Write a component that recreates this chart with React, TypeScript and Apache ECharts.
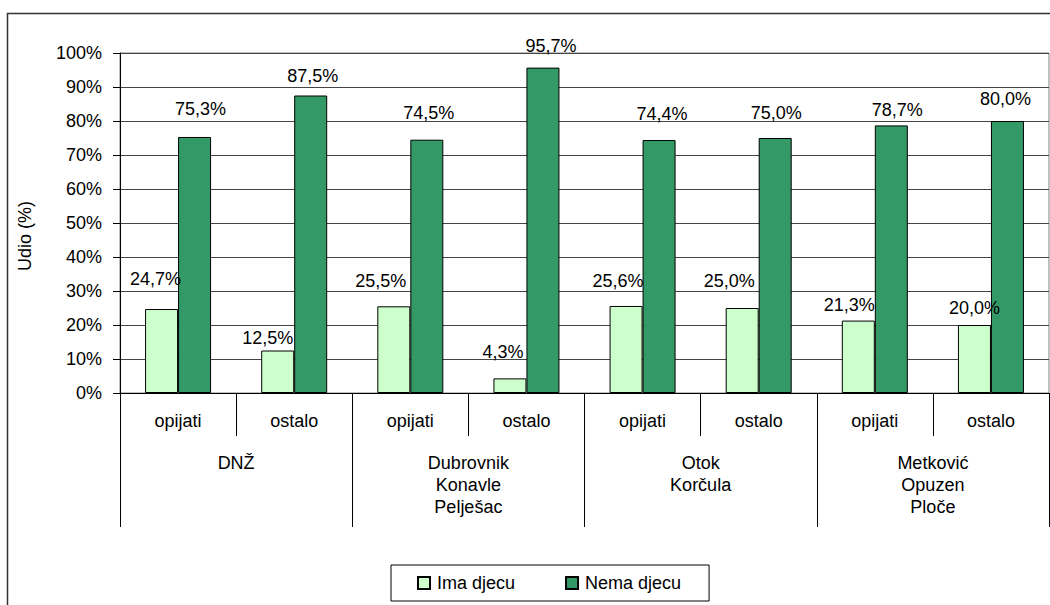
import React, { useEffect, useRef } from "react";
import * as echarts from "echarts";

const subCategories = ["opijati", "ostalo", "opijati", "ostalo", "opijati", "ostalo", "opijati", "ostalo"];
const groups = ["DNŽ", "Dubrovnik\nKonavle\nPelješac", "Otok\nKorčula", "Metković\nOpuzen\nPloče"];
const imaDjecu = [24.7, 12.5, 25.5, 4.3, 25.6, 25.0, 21.3, 20.0];
const nemaDjecu = [75.3, 87.5, 74.5, 95.7, 74.4, 75.0, 78.7, 80.0];
const yTicks = { min: 0, max: 100, interval: 10 };

// small manual nudges of the value labels (as placed in the original)
const imaLabelDx = [-6, -10, -13, -7, -8, -13, -9, 0];
const imaLabelDy = [-6, 11, -1, -2, -1, -3, 8, 7];
const nemaLabelDx = [6, 2, 2, 8, 3, 1, 6, -2];
const nemaLabelDy = [-4, 4, -3, 2, -2, -1, 9, 2];

const FONT = "'Liberation Sans', Arial, sans-serif";
const fmt = (v: number) => v.toFixed(1).replace(".", ",") + "%";

export default function App() {
  const ref = useRef<HTMLDivElement>(null);
  useEffect(() => {
    if (!ref.current) return;
    const chart = echarts.init(ref.current, undefined, { renderer: "svg" });
    const labelBase = {
      show: true,
      position: "top" as const,
      distance: 15,
      fontSize: 18,
      fontFamily: FONT,
      color: "#000",
      formatter: (p: any) => fmt(p.value),
    };
    const withNudges = (vals: number[], dx: number[], dy: number[]) =>
      vals.map((v, i) => ({ value: v, label: { offset: [dx[i], dy[i]] } }));
    chart.setOption({
      animation: false,
      textStyle: { fontFamily: FONT, color: "#000" },
      grid: {
        left: 120,
        top: 53,
        right: 1,
        bottom: 212,
        show: true,
        borderColor: "#808080",
        borderWidth: 1,
      },
      legend: {
        left: 391,
        top: 565,
        orient: "horizontal",
        itemWidth: 12,
        itemHeight: 12,
        itemGap: 50,
        icon: "rect",
        borderColor: "#000",
        borderWidth: 1,
        padding: [9, 28, 9, 26],
        textStyle: { fontSize: 18, fontFamily: FONT, color: "#000", padding: [0, 0, 0, 2] },
        data: ["Ima djecu", "Nema djecu"],
      },
      xAxis: [
        {
          type: "category",
          data: subCategories,
          position: "bottom",
          axisLine: { show: true, lineStyle: { color: "#000", width: 1 } },
          axisTick: { show: true, length: 43, interval: 0, lineStyle: { color: "#000" } },
          axisLabel: { interval: 0, margin: 19, fontSize: 18, fontFamily: FONT, color: "#000" },
          splitLine: { show: false },
        },
        {
          type: "category",
          data: groups,
          position: "bottom",
          axisLine: { show: false },
          axisTick: { show: true, length: 134, interval: 0, lineStyle: { color: "#000" } },
          axisLabel: {
            interval: 0,
            margin: 59,
            fontSize: 18,
            lineHeight: 22,
            fontFamily: FONT,
            color: "#000",
          },
          splitLine: { show: false },
        },
      ],
      yAxis: {
        type: "value",
        min: yTicks.min,
        max: yTicks.max,
        interval: yTicks.interval,
        axisLine: { show: true, lineStyle: { color: "#000", width: 1 } },
        axisTick: { show: true, length: 7, lineStyle: { color: "#000" } },
        axisLabel: {
          margin: 18,
          fontSize: 18,
          fontFamily: FONT,
          color: "#000",
          formatter: (v: number) => v + "%",
        },
        splitLine: { show: true, lineStyle: { color: "#444", width: 1 } },
      },
      graphic: [
        {
          type: "rect",
          shape: { x: 7.5, y: 13.5, width: 1100, height: 700 },
          style: { fill: "none", stroke: "#333", lineWidth: 1.5 },
          silent: true,
          z: -10,
        },
        {
          type: "text",
          x: 25,
          y: 236,
          rotation: Math.PI / 2,
          style: {
            text: "Udio (%)",
            fontSize: 18,
            fontFamily: FONT,
            fill: "#000",
            align: "center",
            verticalAlign: "middle",
          },
        },
      ],
      series: [
        {
          name: "Ima djecu",
          type: "bar",
          xAxisIndex: 0,
          data: withNudges(imaDjecu, imaLabelDx, imaLabelDy),
          barWidth: 33,
          barGap: "0%",
          itemStyle: { color: "#CCFFCC", borderColor: "#000", borderWidth: 1 },
          label: labelBase,
        },
        {
          name: "Nema djecu",
          type: "bar",
          xAxisIndex: 0,
          data: withNudges(nemaDjecu, nemaLabelDx, nemaLabelDy),
          barWidth: 33,
          barGap: "0%",
          itemStyle: { color: "#339966", borderColor: "#000", borderWidth: 1 },
          label: labelBase,
        },
      ],
    });
    return () => chart.dispose();
  }, []);
  return (
    <div
      ref={ref}
      style={{ position: "absolute", left: 0, top: 0, width: 1050, height: 605, background: "#fff" }}
    />
  );
}
